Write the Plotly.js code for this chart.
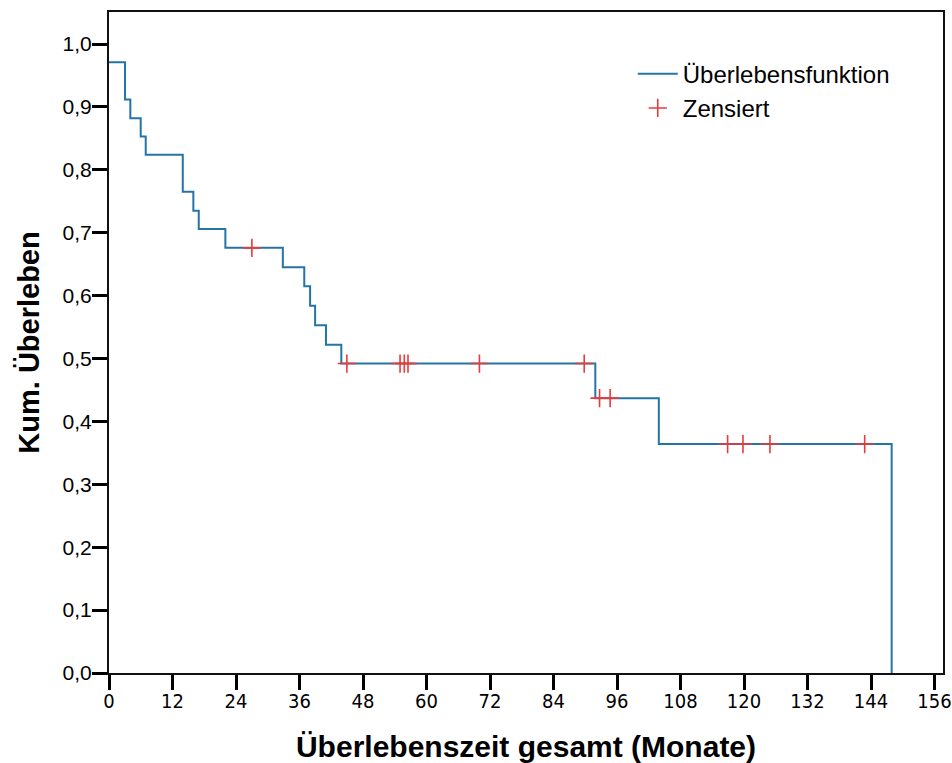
<!DOCTYPE html>
<html>
<head>
<meta charset="utf-8">
<script src="https://cdn.plot.ly/plotly-3.0.1.min.js"></script>
<style>html,body{margin:0;padding:0;background:#fff;}#chart{width:952px;height:763px;}</style>
</head>
<body>
<div id="chart"></div>
<script>
// Kaplan-Meier step curve (event times in months, survival after each step)
var stepTimes = [0, 3.03, 4.03, 5.99, 6.94, 13.94, 15.94, 16.96, 21.99, 32.85, 36.9, 38.0, 38.95, 41.0, 43.9, 91.9, 103.9, 147.9];
var stepSurv  = [0.971, 0.912, 0.882, 0.853, 0.824, 0.765, 0.735, 0.706, 0.676, 0.645, 0.615, 0.584, 0.553, 0.522, 0.492, 0.437, 0.364, 0.0];
// Censored observations
var censTimes = [27.0, 44.95, 55.0, 55.8, 56.5, 70.0, 89.8, 92.7, 94.7, 116.9, 119.8, 124.9, 142.8];
var censSurv  = [0.676, 0.492, 0.492, 0.492, 0.492, 0.492, 0.492, 0.437, 0.437, 0.364, 0.364, 0.364, 0.364];
// Tick labels
var xTicks = [0, 12, 24, 36, 48, 60, 72, 84, 96, 108, 120, 132, 144, 156];
var yTicks = [0, 0.1, 0.2, 0.3, 0.4, 0.5, 0.6, 0.7, 0.8, 0.9, 1.0];
var yTickText = ['0,0','0,1','0,2','0,3','0,4','0,5','0,6','0,7','0,8','0,9','1,0'];

var traces = [
  {
    x: stepTimes, y: stepSurv, type: 'scatter', mode: 'lines',
    line: {shape: 'hv', color: '#2474a6', width: 2},
    name: 'Überlebensfunktion'
  },
  {
    x: censTimes, y: censSurv, type: 'scatter', mode: 'markers',
    marker: {symbol: 'cross-thin', size: 13, line: {color: '#ea3a3a', width: 1.6}, color: '#ea3a3a'},
    name: 'Zensiert'
  }
];

var layout = {
  width: 952, height: 763,
  margin: {l: 109, r: 9, t: 12, b: 90},
  paper_bgcolor: '#ffffff', plot_bgcolor: '#ffffff',
  font: {family: '"Liberation Sans", Arial, sans-serif', color: '#000'},
  showlegend: true,
  legend: {
    x: 0.628, y: 0.94, xanchor: 'left', yanchor: 'top',
    font: {size: 24, family: '"Liberation Sans", Arial, sans-serif', color: '#000'},
    bgcolor: 'rgba(0,0,0,0)', tracegroupgap: 0, itemwidth: 40
  },
  xaxis: {
    range: [0, 157.6], tickvals: xTicks, ticktext: xTicks.map(String),
    showgrid: false, zeroline: false,
    showline: true, mirror: true, linecolor: '#111', linewidth: 2,
    ticks: 'outside', ticklen: 15, tickwidth: 3, tickcolor: '#000',
    ticklabelstandoff: -6,
    tickfont: {family: '"Liberation Sans Narrow", "DejaVu Sans Condensed", sans-serif', size: 20, color: '#000'},
    title: {text: 'Überlebenszeit gesamt (Monate)', standoff: 28,
      font: {family: '"Liberation Sans Narrow", "Liberation Sans", sans-serif', size: 30, color: '#000', weight: 'bold'}}
  },
  yaxis: {
    range: [0, 1.051], tickvals: yTicks, ticktext: yTickText,
    showgrid: false, zeroline: false,
    showline: true, mirror: true, linecolor: '#111', linewidth: 2,
    ticks: 'outside', ticklen: 15, tickwidth: 3, tickcolor: '#000',
    ticklabelstandoff: -4,
    tickfont: {family: '"Liberation Sans", Arial, sans-serif', size: 21, color: '#000'},
    title: {text: 'Kum. Überleben', standoff: 14,
      font: {family: '"Liberation Sans", Arial, sans-serif', size: 29, color: '#000', weight: 'bold'}}
  }
};

Plotly.newPlot('chart', traces, layout, {displayModeBar: false, staticPlot: true});
</script>
</body>
</html>
